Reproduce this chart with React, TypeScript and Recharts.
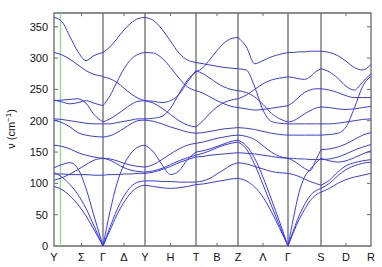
import { LineChart, Line, XAxis, YAxis, ReferenceLine, ReferenceArea, Label } from "recharts";

// k-path: Y-Γ-Y-T-Z-Γ-S-R (distance along path)
const symPoints = [0, 49, 91, 142, 184, 234, 267, 317];
const tickPos = [0, 27.5, 49, 70, 91, 116.5, 142, 163, 184, 209, 234, 267, 292, 317];
const tickNames = ["Y", "Σ", "Γ", "Δ", "Y", "H", "T", "B", "Z", "Λ", "Γ", "S", "D", "R"];
const midTicks = [27.5, 70, 116.5, 163, 209, 292];
const yTicks = [0, 50, 100, 150, 200, 250, 300, 350];
const markerK = 6.3;
const kMax = 317;
const vMax = 372;

// Y -> Γ
const kYG = [0, 8, 16, 24, 32, 40, 49];
const bandsYG = [
  [365, 358, 334, 310, 296, 304, 309],
  [309, 305, 298, 289, 280, 274, 271],
  [233, 230, 227, 229, 232, 228, 224],
  [232, 233, 234, 235, 228, 210, 198],
  [203, 202, 200, 198, 196, 195, 195],
  [201, 197, 190, 181, 177, 175, 174],
  [161, 159, 155, 149, 145, 142, 140],
  [125, 130, 133, 123, 92, 48, 0],
  [117, 110, 98, 82, 60, 32, 0],
  [115, 115, 114, 114, 114, 113, 113],
  [105, 109, 115, 122, 130, 137, 140],
  [95, 90, 80, 66, 48, 26, 0],
];

// Γ -> Y
const kGY = [49, 56, 63, 70, 77, 84, 91];
const bandsGY = [
  [309, 318, 331, 345, 356, 363, 365],
  [270, 267, 261, 252, 243, 236, 232],
  [224, 240, 262, 283, 298, 306, 309],
  [198, 203, 210, 218, 226, 231, 232],
  [195, 195, 197, 199, 201, 203, 203],
  [174, 176, 181, 188, 195, 200, 201],
  [0, 55, 100, 130, 148, 158, 161],
  [140, 139, 136, 132, 129, 127, 126],
  [140, 137, 131, 125, 121, 119, 118],
  [113, 114, 114, 115, 115, 116, 116],
  [0, 30, 58, 80, 95, 102, 104],
  [0, 25, 50, 70, 85, 94, 97],
];

// Y -> T
const kYT = [91, 99.5, 108, 116.5, 125, 133.5, 142];
const bandsYT = [
  [365, 360, 346, 327, 308, 297, 293],
  [309, 308, 300, 285, 268, 254, 248],
  [232, 228, 220, 210, 200, 193, 190],
  [232, 231, 229, 232, 242, 262, 280],
  [203, 204, 207, 220, 243, 265, 278],
  [201, 199, 195, 190, 186, 182, 180],
  [161, 150, 130, 114, 120, 138, 150],
  [126, 130, 138, 147, 155, 161, 164],
  [118, 120, 124, 130, 136, 141, 145],
  [116, 118, 122, 127, 133, 138, 142],
  [104, 104, 103, 103, 102, 102, 102],
  [97, 95, 93, 92, 93, 95, 98],
];

// T -> Z
const kTZ = [142, 149, 156, 163, 170, 177, 184];
const bandsTZ = [
  [293, 291, 289, 287, 285, 284, 283],
  [278, 285, 298, 312, 324, 331, 333],
  [280, 275, 268, 260, 254, 250, 248],
  [248, 244, 238, 232, 227, 223, 221],
  [190, 200, 212, 222, 229, 233, 235],
  [180, 181, 183, 185, 187, 188, 189],
  [164, 166, 169, 172, 174, 176, 177],
  [150, 152, 155, 159, 163, 167, 169],
  [145, 148, 152, 157, 161, 164, 166],
  [142, 143, 145, 146, 147, 148, 149],
  [102, 104, 108, 115, 122, 129, 133],
  [98, 99, 101, 103, 105, 107, 108],
];

// Z -> Γ
const kZG = [184, 192.3, 200.7, 209, 217.3, 225.7, 234];
const bandsZG = [
  [333, 318, 291, 296, 302, 306, 309],
  [283, 281, 254, 217, 199, 196, 195],
  [248, 245, 238, 226, 212, 203, 198],
  [235, 241, 250, 259, 265, 268, 270],
  [221, 219, 217, 218, 220, 222, 224],
  [189, 188, 186, 183, 180, 178, 177],
  [177, 175, 170, 160, 150, 143, 140],
  [169, 160, 140, 110, 75, 38, 0],
  [166, 155, 130, 98, 65, 32, 0],
  [149, 148, 147, 145, 143, 141, 140],
  [133, 131, 127, 123, 119, 117, 116],
  [108, 104, 94, 78, 55, 28, 0],
];

// Γ -> S
const kGS = [234, 239.5, 245, 250.5, 256, 261.5, 267];
const bandsGS = [
  [309, 309, 310, 310, 311, 311, 311],
  [270, 269, 267, 266, 270, 278, 283],
  [224, 230, 238, 245, 249, 251, 251],
  [198, 200, 205, 211, 216, 220, 222],
  [195, 195, 195, 195, 195, 195, 195],
  [177, 177, 177, 177, 177, 177, 177],
  [140, 140, 139, 139, 138, 138, 138],
  [140, 136, 130, 124, 120, 136, 154],
  [116, 114, 111, 107, 103, 100, 97],
  [0, 45, 85, 110, 122, 132, 140],
  [0, 25, 48, 66, 80, 88, 92],
  [0, 22, 42, 58, 72, 81, 86],
];

// S -> R
const kSR = [267, 275.3, 283.7, 292, 300.3, 308.7, 317];
const bandsSR = [
  [311, 309, 304, 295, 285, 281, 290],
  [283, 278, 268, 255, 249, 262, 275],
  [251, 249, 245, 240, 237, 237, 237],
  [222, 221, 219, 218, 219, 221, 223],
  [195, 195, 196, 198, 200, 202, 203],
  [177, 178, 180, 190, 220, 255, 271],
  [154, 155, 158, 163, 170, 177, 181],
  [138, 139, 142, 147, 153, 158, 162],
  [140, 136, 134, 136, 141, 147, 152],
  [97, 105, 118, 128, 133, 136, 138],
  [92, 100, 112, 122, 128, 132, 134],
  [86, 92, 100, 106, 110, 113, 116],
];

const segments = [
  { k: kYG, bands: bandsYG },
  { k: kGY, bands: bandsGY },
  { k: kYT, bands: bandsYT },
  { k: kTZ, bands: bandsTZ },
  { k: kZG, bands: bandsZG },
  { k: kGS, bands: bandsGS },
  { k: kSR, bands: bandsSR },
];

const series = segments.flatMap((s, si) =>
  s.bands.map((b, bi) => ({
    id: `s${si}b${bi}`,
    data: b.map((v, i) => ({ k: s.k[i], v })),
  }))
);

const FRAME = "#6a6a6a";
const tickFont = { fontSize: 11, fill: "#111", fontFamily: "Liberation Sans, Arial, sans-serif" };

const renderYLabel = () => (
  <text
    transform="translate(15,129) rotate(-90)"
    textAnchor="middle"
    fontSize={11}
    fill="#111"
    fontFamily="Liberation Sans, Arial, sans-serif"
  >
    ν (cm
    <tspan dy={-4} fontSize={8}>
      −1
    </tspan>
    <tspan dy={4}>)</tspan>
  </text>
);

export default function App() {
  return (
    <div style={{ width: 382, height: 267, background: "#fff" }}>
      <style>{"body{margin:0}"}</style>
      <LineChart width={382} height={267} margin={{ top: 13, right: 11, left: 10, bottom: 1 }}>
        <XAxis
          dataKey="k"
          type="number"
          domain={[0, kMax]}
          ticks={tickPos}
          tickFormatter={(_v: number, i: number) => tickNames[i]}
          interval={0}
          allowDuplicatedCategory={false}
          axisLine={false}
          tickLine={false}
          tickSize={0}
          tickMargin={7}
          height={20}
          tick={tickFont}
        />
        <YAxis
          type="number"
          domain={[0, vMax]}
          ticks={yTicks}
          axisLine={false}
          tickLine={false}
          tickSize={0}
          tickMargin={6}
          width={44}
          tick={tickFont}
        >
          <Label content={renderYLabel} />
        </YAxis>
        {symPoints.slice(1, -1).map((k) => (
          <ReferenceLine key={`sym${k}`} x={k} stroke={FRAME} strokeWidth={1.3} />
        ))}
        <ReferenceLine x={markerK} stroke="#66e066" strokeWidth={1} />
        {midTicks.map((k) => (
          <ReferenceLine
            key={`tb${k}`}
            segment={[{ x: k, y: 0 }, { x: k, y: 5 }]}
            stroke={FRAME}
          />
        ))}
        {midTicks.map((k) => (
          <ReferenceLine
            key={`tt${k}`}
            segment={[{ x: k, y: vMax - 5 }, { x: k, y: vMax }]}
            stroke={FRAME}
          />
        ))}
        {yTicks.slice(1).map((v) => (
          <ReferenceLine key={`yl${v}`} segment={[{ x: 0, y: v }, { x: 4, y: v }]} stroke={FRAME} />
        ))}
        {yTicks.slice(1).map((v) => (
          <ReferenceLine
            key={`yr${v}`}
            segment={[{ x: kMax - 4, y: v }, { x: kMax, y: v }]}
            stroke={FRAME}
          />
        ))}
        {series.map((s) => (
          <Line
            key={s.id}
            data={s.data}
            dataKey="v"
            type="monotone"
            stroke="#3a3af2"
            strokeWidth={1}
            dot={false}
            activeDot={false}
            isAnimationActive={false}
          />
        ))}
        <ReferenceArea x1={0} x2={kMax} y1={0} y2={vMax} fill="none" stroke={FRAME} strokeWidth={1.3} />
      </LineChart>
    </div>
  );
}
